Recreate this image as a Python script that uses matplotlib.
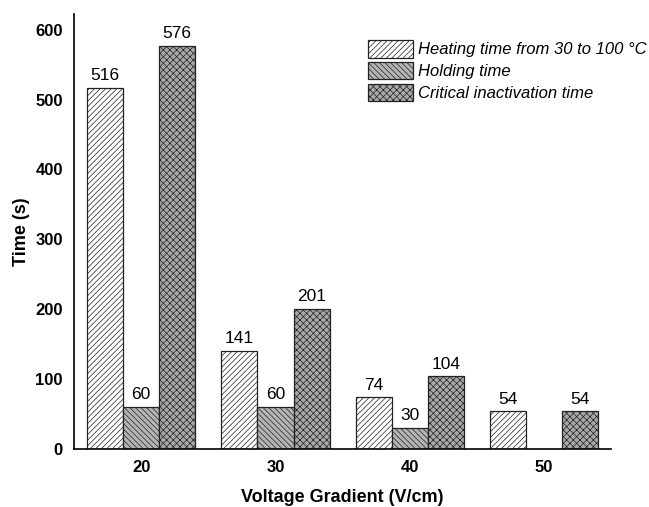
import numpy as np
import matplotlib
matplotlib.use("Agg")
import matplotlib.pyplot as plt

plt.rcParams['font.family'] = ['Liberation Sans', 'DejaVu Sans']
plt.rcParams['hatch.linewidth'] = 0.5

gradients = ['20', '30', '40', '50']
heating = [516, 141, 74, 54]
holding = [60, 60, 30, 0]
critical = [576, 201, 104, 54]
names = ['Heating time from 30 to 100 \u00b0C', 'Holding time', 'Critical inactivation time']

fig = plt.figure(figsize=(6.49, 5.07), dpi=100)
ax = fig.add_axes([0.114, 0.114, 0.828, 0.858])

x = np.arange(len(gradients))
w = 0.268
styles = [('white', '//////'), ('#b4b4b4', '\\\\\\\\\\\\'), ('#a8a8a8', 'xxxxx')]
series = [heating, holding, critical]
for k, (vals, (fc, hatch)) in enumerate(zip(series, styles)):
    pos = x + (k - 1) * w
    ax.bar(pos, vals, w, color=fc, hatch=hatch, edgecolor='#222222',
           linewidth=0.9, label=names[k])
    for p, v in zip(pos, vals):
        if v > 0:
            ax.text(p, v + 7, str(v), ha='center', va='bottom', fontsize=12.5)

ax.set_xlim(-0.5, 3.5)
ax.set_ylim(0, 622)
ax.set_yticks(range(0, 601, 100))
ax.set_xticks(x)
ax.set_xticklabels(gradients)
ax.tick_params(length=0, labelsize=12, pad=8)
for lab in ax.get_xticklabels() + ax.get_yticklabels():
    lab.set_fontweight('bold')
ax.spines['top'].set_visible(False)
ax.spines['right'].set_visible(False)
ax.spines['left'].set_linewidth(1.2)
ax.spines['bottom'].set_linewidth(1.2)

ax.set_xlabel('Voltage Gradient (V/cm)', fontsize=13, fontweight='bold', labelpad=10)
ax.set_ylabel('Time (s)', fontsize=13, fontweight='bold', labelpad=4)

leg = ax.legend(loc='upper right', bbox_to_anchor=(1.094, 0.975), frameon=False,
                handlelength=2.7, handleheight=1.25, handletextpad=0.3,
                labelspacing=0.25, prop={'style': 'italic', 'size': 12})

fig.savefig('out.png', dpi=100)
